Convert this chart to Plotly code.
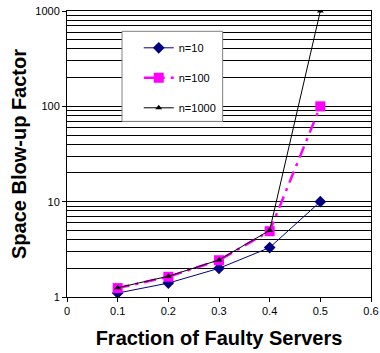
import plotly.graph_objects as go

fraction = [0.1, 0.2, 0.3, 0.4, 0.5]
n10 = [1.1, 1.4, 2.0, 3.3, 10]
n100 = [1.24, 1.63, 2.43, 4.9, 100]
n1000 = [1.25, 1.65, 2.45, 5.0, 1000]
x_ticks = [0, 0.1, 0.2, 0.3, 0.4, 0.5, 0.6]
y_ticks = [1, 10, 100, 1000]
minor_vals = [m * d for d in (1, 10, 100) for m in range(2, 10)]

FONT = "Liberation Sans, Arial, sans-serif"

fig = go.Figure()
fig.add_trace(go.Scatter(x=fraction, y=n10, name="n=10", mode="lines+markers",
                         line=dict(color="#000080", width=1),
                         marker=dict(symbol="diamond", size=9, color="#000080"),
                         legendgroup="a"))
fig.add_trace(go.Scatter(x=fraction, y=n100, name="n=100", mode="lines+markers",
                         line=dict(color="#FF00FF", width=2.5, dash="12px,6px,3px,6px"),
                         marker=dict(symbol="square", size=10, color="#FF00FF"),
                         legendgroup="b"))
fig.add_trace(go.Scatter(x=fraction, y=n1000, name="n=1000", mode="lines+markers",
                         line=dict(color="black", width=1),
                         marker=dict(symbol="triangle-up", size=6, color="black"),
                         legendgroup="c"))

# legend frame box
fig.add_shape(type="rect", xref="paper", yref="paper",
              x0=0.181, x1=0.512, y0=0.614, y1=0.929,
              fillcolor="white", line=dict(color="#808080", width=1),
              layer="above")

fig.update_layout(
    width=380, height=353,
    margin=dict(l=67, r=9, t=11, b=56, autoexpand=False),
    paper_bgcolor="white", plot_bgcolor="white",
    font=dict(family=FONT, size=11, color="black"),
    showlegend=True,
    legend=dict(x=0.236, y=0.922, xanchor="left", yanchor="top",
                bgcolor="rgba(0,0,0,0)", borderwidth=0,
                font=dict(size=11), tracegroupgap=11, traceorder="grouped",
                itemwidth=30),
    xaxis=dict(range=[0, 0.6], tickvals=x_ticks, ticktext=[f"{v:g}" for v in x_ticks],
               showgrid=False, zeroline=False, showline=True, linecolor="black",
               linewidth=1, mirror=True, ticks="outside", ticklen=4,
               tickcolor="black", automargin=False,
               title=dict(text="<b>Fraction of Faulty Servers</b>",
                          font=dict(size=20), standoff=14)),
    yaxis=dict(type="log", range=[0, 3], tickvals=y_ticks,
               ticktext=[str(v) for v in y_ticks],
               showgrid=True, gridcolor="black", gridwidth=1,
               zeroline=False, showline=True, linecolor="black", linewidth=1,
               mirror=True, ticks="outside", ticklen=4, tickcolor="black",
               automargin=False,
               minor=dict(tickvals=minor_vals, showgrid=True,
                          gridcolor="black", gridwidth=1, ticks=""),
               title=dict(text="<b>Space Blow-up Factor</b>",
                          font=dict(size=20), standoff=3)),
)

fig.write_html("out.html", config={"displayModeBar": False},
               post_script="document.body.style.margin='0';document.body.style.padding='0';")
